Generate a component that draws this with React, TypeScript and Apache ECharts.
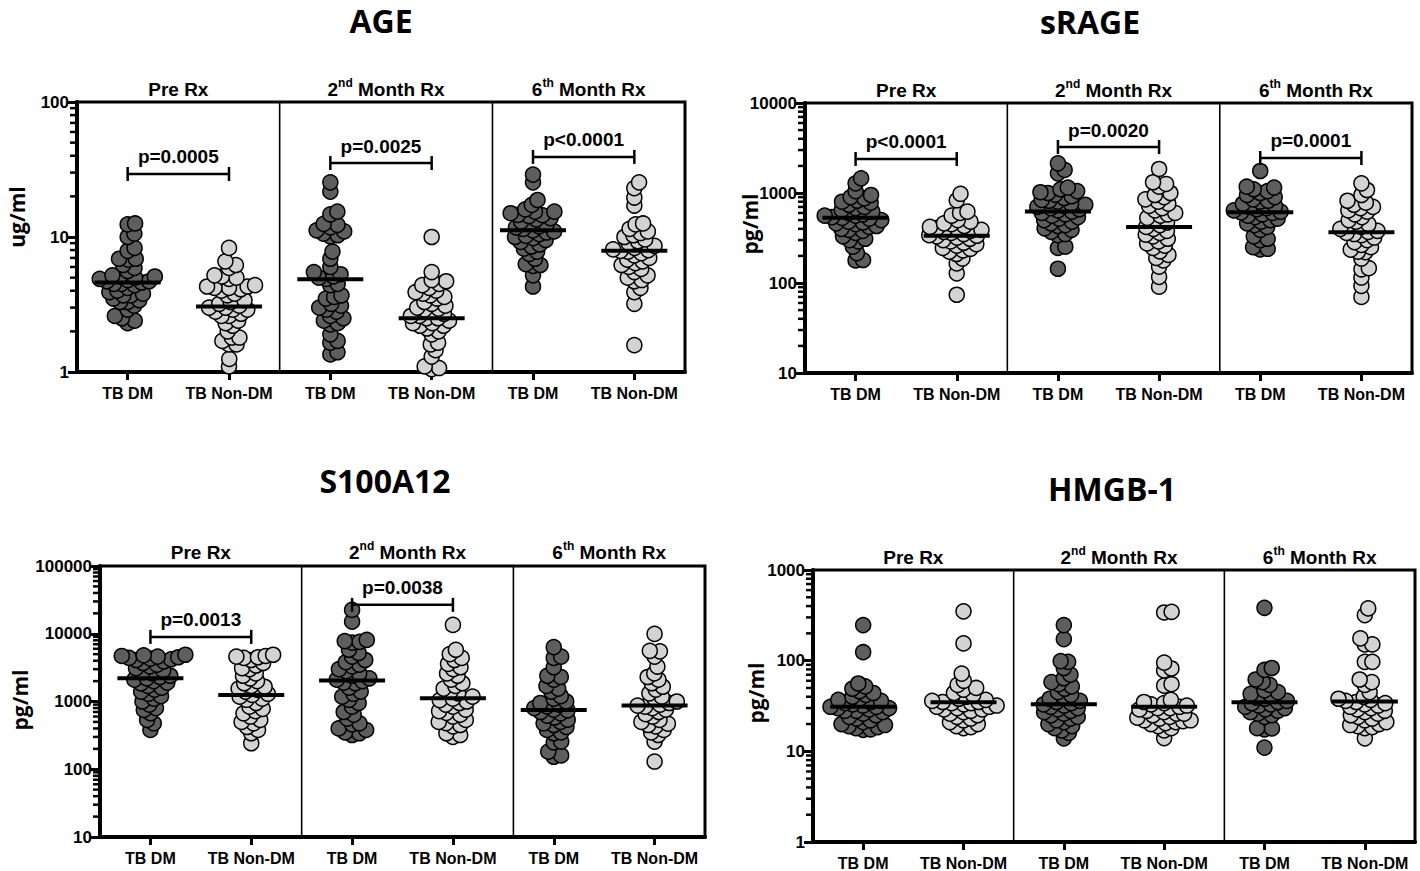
import React, { useEffect, useRef } from "react";
import * as echarts from "echarts";

const FONT = "'Liberation Sans', Arial, Helvetica, sans-serif";
const TFONT = "'Open Sans', 'Liberation Sans', sans-serif";

// ---------- categories / labels ----------
const groupLabels = ["TB DM", "TB Non-DM", "TB DM", "TB Non-DM", "TB DM", "TB Non-DM"];
const sectionLabels = ["{n|Pre Rx}", "{n|2}{s|nd}{n| Month Rx}", "{n|6}{s|th}{n| Month Rx}"];
const sectionCenters = [0.5, 2.55, 4.55];
const dividerPositions = [1.5, 3.6];
const bracketPairs = [[0, 1], [2, 3], [4, 5]];

// ---------- AGE (ug/ml) ----------
const agePreDM = [12.6, 12.4, 10.6, 10.0, 8.3, 7.9, 6.9, 6.9, 6.8, 6.2, 5.9, 5.6, 5.2, 5.1, 5.1, 5.0, 4.9, 4.8, 4.7, 4.7, 4.6, 4.5, 4.5, 4.4, 4.2, 4.0, 3.9, 3.8, 3.7, 3.7, 3.5, 3.4, 3.3, 3.3, 3.1, 2.9, 2.6, 2.5, 2.4, 2.3];
const agePreNonDM = [8.3, 6.6, 6.2, 5.9, 5.2, 5.1, 5.0, 4.9, 4.4, 4.3, 4.3, 4.2, 4.2, 4.1, 4.0, 3.8, 3.7, 3.4, 3.3, 3.2, 3.1, 3.0, 3.0, 2.9, 2.9, 2.8, 2.7, 2.6, 2.6, 2.4, 2.3, 2.2, 2.0, 1.8, 1.8, 1.7, 1.6, 1.6, 1.25, 1.1];
const age2ndDM = [25.4, 21.7, 15.4, 14.7, 12.5, 12.3, 11.8, 11.2, 11.0, 10.6, 10.3, 10.1, 7.8, 6.9, 6.0, 5.5, 5.3, 5.1, 5.0, 4.9, 4.5, 4.4, 3.7, 3.6, 3.5, 3.2, 3.1, 3.0, 2.9, 2.8, 2.6, 2.5, 2.4, 2.3, 2.25, 1.9, 1.7, 1.65, 1.4, 1.35];
const age2ndNonDM = [10.0, 5.5, 4.8, 4.7, 4.5, 4.4, 4.2, 4.0, 3.9, 3.8, 3.7, 3.6, 3.5, 3.3, 3.2, 3.1, 3.0, 2.95, 2.9, 2.8, 2.7, 2.6, 2.6, 2.5, 2.5, 2.4, 2.3, 2.3, 2.2, 2.2, 2.1, 2.0, 1.9, 1.65, 1.6, 1.45, 1.3, 1.1, 1.07, 1.05];
const age6thDM = [29.0, 25.4, 18.8, 17.3, 16.0, 15.4, 15.4, 15.0, 14.6, 14.5, 14.3, 13.8, 13.5, 13.0, 12.6, 12.4, 12.0, 11.8, 11.5, 11.2, 11.0, 10.8, 10.5, 10.2, 10.0, 9.8, 9.5, 9.2, 8.8, 8.5, 8.2, 7.8, 7.5, 6.9, 6.3, 6.2, 6.1, 5.2, 4.3];
const age6thNonDM = [25.4, 23.0, 19.6, 17.1, 12.6, 12.4, 11.5, 11.0, 10.7, 10.3, 10.0, 9.6, 9.3, 9.0, 8.6, 8.3, 8.1, 8.0, 7.9, 7.8, 7.6, 7.3, 7.0, 6.8, 6.6, 6.4, 6.2, 6.0, 5.8, 5.5, 5.2, 5.0, 4.8, 4.7, 4.2, 3.9, 3.2, 1.58];
const ageMedians = [4.6, 3.05, 4.86, 2.5, 11.2, 7.9];
const agePLabels = ["p=0.0005", "p=0.0025", "p<0.0001"];
const agePLevels = [29.3, 35.3, 39.2];

// ---------- sRAGE (pg/ml) ----------
const sragePreDM = [1456, 1280, 1050, 950, 900, 870, 820, 800, 780, 740, 700, 680, 650, 620, 600, 580, 560, 560, 540, 530, 520, 500, 480, 470, 460, 450, 430, 420, 400, 390, 380, 360, 330, 310, 300, 290, 253, 215, 180, 178];
const sragePreNonDM = [980, 830, 620, 600, 560, 500, 480, 460, 450, 430, 420, 410, 400, 390, 380, 370, 360, 350, 340, 335, 330, 320, 310, 300, 290, 280, 270, 260, 245, 240, 230, 223, 210, 187, 165, 128, 74];
const srage2ndDM = [2138, 1803, 1655, 1150, 1100, 1050, 1020, 1000, 960, 920, 880, 840, 820, 800, 760, 740, 720, 700, 680, 660, 640, 620, 600, 580, 560, 540, 520, 500, 480, 460, 440, 430, 405, 390, 370, 350, 340, 253, 245, 144];
const srage2ndNonDM = [1849, 1316, 1260, 1175, 1000, 950, 900, 850, 800, 760, 720, 680, 640, 600, 580, 560, 530, 500, 470, 440, 420, 400, 380, 360, 345, 330, 310, 290, 275, 260, 245, 225, 205, 190, 178, 152, 117, 91];
const srage6thDM = [1756, 1175, 1150, 1100, 1050, 1000, 950, 900, 850, 820, 800, 760, 720, 700, 680, 660, 640, 620, 610, 600, 580, 560, 540, 520, 500, 480, 460, 440, 420, 390, 330, 310, 300, 250, 240, 236];
const srage6thNonDM = [1280, 1080, 950, 820, 780, 740, 700, 680, 640, 620, 580, 540, 500, 480, 450, 420, 400, 380, 370, 360, 350, 340, 320, 300, 285, 265, 250, 235, 223, 220, 187, 146, 142, 115, 93, 70];
const srageMedians = [532, 336, 621, 420, 610, 366];
const sragePLabels = ["p<0.0001", "p=0.0020", "p=0.0001"];
const sragePLevels = [2388, 3243, 2449];

// ---------- S100A12 (pg/ml) ----------
const s100PreDM = [4900, 4800, 4700, 4600, 4500, 4400, 4300, 4200, 4100, 3900, 3700, 3500, 3300, 3100, 2900, 2700, 2600, 2400, 2300, 2200, 2100, 2000, 1900, 1850, 1700, 1600, 1500, 1400, 1300, 1200, 1100, 1000, 900, 800, 750, 671, 535, 477, 380];
const s100PreNonDM = [4900, 4700, 4600, 4500, 4400, 4100, 3700, 3400, 3100, 3000, 2600, 2400, 2200, 2000, 1860, 1700, 1650, 1550, 1480, 1400, 1300, 1250, 1180, 1100, 1060, 950, 840, 780, 720, 670, 600, 535, 500, 477, 420, 380, 340, 242];
const s1002ndDM = [22500, 15100, 8100, 7800, 7600, 7400, 5800, 5200, 4600, 4100, 3800, 3500, 3300, 3000, 2800, 2600, 2400, 2200, 2100, 2000, 1900, 1860, 1600, 1400, 1300, 1180, 1060, 950, 840, 700, 640, 560, 477, 460, 400, 380, 350, 340, 320];
const s1002ndNonDM = [13500, 5800, 5000, 4400, 4100, 3600, 3200, 3000, 2600, 2400, 2100, 1860, 1700, 1550, 1400, 1320, 1180, 1100, 1050, 1000, 950, 900, 840, 760, 720, 680, 640, 600, 535, 500, 480, 450, 430, 340, 320, 300];
const s1006thDM = [6340, 4600, 4400, 3200, 2400, 2300, 2100, 1700, 1550, 1400, 1200, 1100, 1000, 950, 900, 850, 800, 760, 740, 700, 670, 620, 580, 540, 500, 477, 450, 420, 380, 350, 340, 256, 250, 182, 160, 153];
const s1006thNonDM = [9950, 5600, 5500, 4600, 3280, 2600, 2300, 2100, 1860, 1650, 1500, 1320, 1180, 1100, 1000, 950, 900, 870, 840, 800, 760, 700, 650, 600, 535, 500, 470, 450, 430, 380, 350, 320, 256, 130];
const s100Medians = [2210, 1250, 2040, 1120, 751, 872];
const s100PLabels = ["p=0.0013", "p=0.0038"];
const s100PLevels = [8990, 26700];

// ---------- HMGB-1 (pg/ml) ----------
const hmgbPreDM = [247, 124, 56, 52, 49, 46, 44, 42, 40, 38, 37, 36, 35, 34, 33, 32, 31, 31, 30, 30, 29, 28, 28, 27, 26, 25, 24, 23, 22, 21, 20, 19.5, 19, 18.5, 18, 17.5, 17.2];
const hmgbPreNonDM = [350, 155, 72, 60, 54, 50, 48, 44, 42, 40, 38, 37, 36, 35, 35, 34, 34, 33, 32, 31, 31, 30, 29, 29, 28, 27, 26, 25, 24, 23, 22, 21, 20, 19, 18.5, 18];
const hmgb2ndDM = [247, 173, 99, 97, 83, 70, 64, 58, 55, 52, 49, 45, 42, 40, 38, 36, 35, 34, 33, 32, 31, 30, 29, 28, 27, 26, 25, 24, 23, 22, 21, 20, 19, 18, 17, 16, 13.9];
const hmgb2ndNonDM = [346, 340, 95, 82, 78, 55, 53, 37, 35, 34, 33, 32, 31, 30, 30, 29, 28, 27, 26, 26, 25, 24, 23.5, 23, 22, 22, 21.5, 21, 20.5, 20, 19, 18, 17, 14];
const hmgb6thDM = [383, 83, 79, 62, 58, 54, 47, 45, 43, 41, 39, 38, 36, 35, 34, 33, 32, 31, 30, 29, 28, 27, 26, 25, 24, 18, 17.9, 17.5, 11];
const hmgb6thNonDM = [377, 318, 176, 151, 151, 97, 97, 62, 58, 54, 45, 40, 38, 37, 36, 35, 34, 33, 32, 31, 30, 29, 28, 27, 26, 25, 24, 23, 22, 21, 20, 19.5, 19, 18.5, 18, 13.9];
const hmgbMedians = [31, 34.7, 33, 31, 34.7, 35.5];
const hmgbPLabels: string[] = [];
const hmgbPLevels: number[] = [];

// ---------- panel definitions ----------
const panels = [
  { title: "AGE", unit: "ug/ml", min: 1, max: 100, groups: [agePreDM, agePreNonDM, age2ndDM, age2ndNonDM, age6thDM, age6thNonDM], medians: ageMedians, pLabels: agePLabels, pLevels: agePLevels },
  { title: "sRAGE", unit: "pg/ml", min: 10, max: 10000, groups: [sragePreDM, sragePreNonDM, srage2ndDM, srage2ndNonDM, srage6thDM, srage6thNonDM], medians: srageMedians, pLabels: sragePLabels, pLevels: sragePLevels },
  { title: "S100A12", unit: "pg/ml", min: 10, max: 100000, groups: [s100PreDM, s100PreNonDM, s1002ndDM, s1002ndNonDM, s1006thDM, s1006thNonDM], medians: s100Medians, pLabels: s100PLabels, pLevels: s100PLevels },
  { title: "HMGB-1", unit: "pg/ml", min: 1, max: 1000, groups: [hmgbPreDM, hmgbPreNonDM, hmgb2ndDM, hmgb2ndNonDM, hmgb6thDM, hmgb6thNonDM], medians: hmgbMedians, pLabels: hmgbPLabels, pLevels: hmgbPLevels },
];

// layout (pixels)
const layouts = [
  { left: 77, top: 102, width: 608, height: 270, titleX: 381, titleY: 20, nameX: 17, nameY: 217, secY: 14 },
  { left: 805, top: 103, width: 607, height: 270, titleX: 1090, titleY: 21, nameX: 750, nameY: 224, secY: 14 },
  { left: 100, top: 566, width: 605, height: 271, titleX: 385, titleY: 480, nameX: 20, nameY: 700, secY: 15 },
  { left: 813, top: 570, width: 602, height: 272, titleX: 1112, titleY: 488, nameX: 756, nameY: 693, secY: 14 },
];

const DM_COLOR = "#5e5e5e";
const ND_COLOR = "#d3d3d3";
const SWARM_GAP = 7.5;

// deterministic beeswarm layout in pixel space
function swarm(values: number[], center: number, min: number, max: number, W: number, H: number): number[][] {
  const lo = Math.log10(min), hi = Math.log10(max);
  const pts = values.map((v) => ({ v, y: ((Math.log10(v) - lo) / (hi - lo)) * H })).sort((a, b) => a.y - b.y);
  const placed: { x: number; y: number }[] = [];
  const out: number[][] = [];
  const D = SWARM_GAP;
  for (const p of pts) {
    const cands = [0];
    for (const q of placed) {
      const dy = p.y - q.y;
      if (Math.abs(dy) < D) {
        const dx = Math.sqrt(D * D - dy * dy);
        cands.push(q.x + dx, q.x - dx);
      }
    }
    cands.sort((a, b) => Math.abs(a) - Math.abs(b));
    let x = cands[0];
    for (const c of cands) {
      if (placed.every((q) => (q.x - c) * (q.x - c) + (q.y - p.y) * (q.y - p.y) >= D * D - 0.01)) {
        x = c;
        break;
      }
    }
    placed.push({ x, y: p.y });
    out.push([center + (x * 6) / W, p.v]);
  }
  return out;
}

function buildOption() {
  const grid: any[] = [];
  const xAxis: any[] = [];
  const yAxis: any[] = [];
  const series: any[] = [];
  const graphic: any[] = [];

  panels.forEach((pn, p) => {
    const L = layouts[p];
    grid.push({ left: L.left, top: L.top, width: L.width, height: L.height, show: true, borderColor: "#000", borderWidth: 3, backgroundColor: "transparent" });
    xAxis.push({
      type: "category", gridIndex: p, data: groupLabels, position: "bottom",
      axisLine: { show: true, onZero: false, lineStyle: { color: "#000", width: 4 } },
      axisTick: { show: true, alignWithLabel: true, length: 8, lineStyle: { color: "#000", width: 3 } },
      axisLabel: { interval: 0, color: "#000", fontFamily: FONT, fontWeight: "bold", fontSize: 16, margin: 13 },
      splitLine: { show: false },
    });
    xAxis.push({ type: "value", gridIndex: p, min: -0.5, max: 5.5, show: false });
    yAxis.push({
      type: "log", logBase: 10, gridIndex: p, min: pn.min, max: pn.max, position: "left",
      axisLine: { show: true, onZero: false, lineStyle: { color: "#000", width: 4 } },
      axisTick: { show: true, length: 9, lineStyle: { color: "#000", width: 3 } },
      axisLabel: { color: "#000", fontFamily: FONT, fontWeight: "bold", fontSize: 17, margin: 8, showMinLabel: true, showMaxLabel: true, formatter: (v: number) => String(Math.round(v)) },
      splitLine: { show: false },
    });
    const xi = 2 * p + 1;

    // minor ticks (2..9 within every decade)
    const minor: number[][] = [];
    for (let k = Math.round(Math.log10(pn.min)); k < Math.round(Math.log10(pn.max)); k++) {
      for (let m = 2; m <= 9; m++) minor.push([-0.5, m * Math.pow(10, k)]);
    }
    series.push({
      type: "scatter", xAxisIndex: xi, yAxisIndex: p, silent: true, clip: false, data: minor, z: 8,
      symbol: "rect", symbolSize: [6, 2.5], symbolOffset: [-4, 0], itemStyle: { color: "#000", opacity: 1 },
    });

    // dividers
    series.push({
      type: "custom", xAxisIndex: xi, yAxisIndex: p, silent: true, clip: false, z: 1,
      data: dividerPositions.map((d) => [d, pn.min]),
      renderItem: (params: any, api: any) => {
        const a = api.coord([api.value(0), pn.min]);
        const b = api.coord([api.value(0), pn.max]);
        return { type: "line", shape: { x1: a[0], y1: a[1], x2: b[0], y2: b[1] }, style: { stroke: "#000", lineWidth: 1.6 } };
      },
    });

    // points
    const dm: number[][] = [];
    const nd: number[][] = [];
    pn.groups.forEach((vals, g) => {
      const pts = swarm(vals, g, pn.min, pn.max, L.width, L.height);
      if (g % 2 === 0) dm.push(...pts);
      else nd.push(...pts);
    });
    series.push({ type: "scatter", xAxisIndex: xi, yAxisIndex: p, data: dm, symbol: "circle", symbolSize: 15, silent: true, z: 4, itemStyle: { color: DM_COLOR, borderColor: "#000", borderWidth: 1.5, opacity: 1 } });
    series.push({ type: "scatter", xAxisIndex: xi, yAxisIndex: p, data: nd, symbol: "circle", symbolSize: 15, silent: true, z: 4, itemStyle: { color: ND_COLOR, borderColor: "#000", borderWidth: 1.5, opacity: 1 } });

    // medians
    series.push({
      type: "scatter", xAxisIndex: xi, yAxisIndex: p, silent: true, z: 6, symbol: "rect", symbolSize: [66, 4],
      data: pn.medians.map((m, g) => [g, m]), itemStyle: { color: "#000", opacity: 1 },
    });

    // brackets with p values
    series.push({
      type: "custom", xAxisIndex: xi, yAxisIndex: p, silent: true, clip: false, z: 7,
      data: pn.pLevels.map((lv, i) => [bracketPairs[i][0], lv, bracketPairs[i][1]]),
      renderItem: (params: any, api: any) => {
        const a = api.coord([api.value(0), api.value(1)]);
        const b = api.coord([api.value(2), api.value(1)]);
        const st = { stroke: "#000", lineWidth: 2.5 };
        return {
          type: "group",
          children: [
            { type: "line", shape: { x1: a[0], y1: a[1], x2: b[0], y2: b[1] }, style: st },
            { type: "line", shape: { x1: a[0], y1: a[1] - 7, x2: a[0], y2: a[1] + 7 }, style: st },
            { type: "line", shape: { x1: b[0], y1: b[1] - 7, x2: b[0], y2: b[1] + 7 }, style: st },
            { type: "text", style: { text: pn.pLabels[params.dataIndex], x: (a[0] + b[0]) / 2, y: a[1] - 17, align: "center", verticalAlign: "middle", fill: "#000", font: `bold 19px ${FONT}` } },
          ],
        };
      },
    });

    // section labels
    series.push({
      type: "custom", xAxisIndex: xi, yAxisIndex: p, silent: true, clip: false, z: 7,
      data: sectionCenters.map((c) => [c, pn.max]),
      renderItem: (params: any, api: any) => {
        const a = api.coord([api.value(0), pn.max]);
        return {
          type: "text",
          style: {
            text: sectionLabels[params.dataIndex], x: a[0], y: a[1] - L.secY, align: "center", verticalAlign: "middle", fill: "#000",
            rich: {
              n: { fontFamily: FONT, fontWeight: "bold", fontSize: 19, lineHeight: 22, verticalAlign: "bottom", fill: "#000" },
              s: { fontFamily: FONT, fontWeight: "bold", fontSize: 12, lineHeight: 22, verticalAlign: "top", fill: "#000" },
            },
          },
        };
      },
    });

    graphic.push({ type: "text", x: L.titleX, y: L.titleY, style: { text: pn.title, font: `bold 32px ${TFONT}`, align: "center", verticalAlign: "middle", fill: "#000" } });
    graphic.push({ type: "text", x: L.nameX, y: L.nameY, rotation: Math.PI / 2, style: { text: pn.unit, font: `bold 21px ${TFONT}`, align: "center", verticalAlign: "middle", fill: "#000" } });
  });

  return { animation: false, backgroundColor: "#fff", grid, xAxis, yAxis, series, graphic: { elements: graphic } };
}

export default function App() {
  const ref = useRef<HTMLDivElement>(null);
  useEffect(() => {
    if (!ref.current) return;
    const chart = echarts.init(ref.current, null, { renderer: "svg" });
    chart.setOption(buildOption() as any);
    return () => chart.dispose();
  }, []);
  return <div ref={ref} style={{ position: "fixed", left: 0, top: 0, width: 1420, height: 871, background: "#fff" }} />;
}
